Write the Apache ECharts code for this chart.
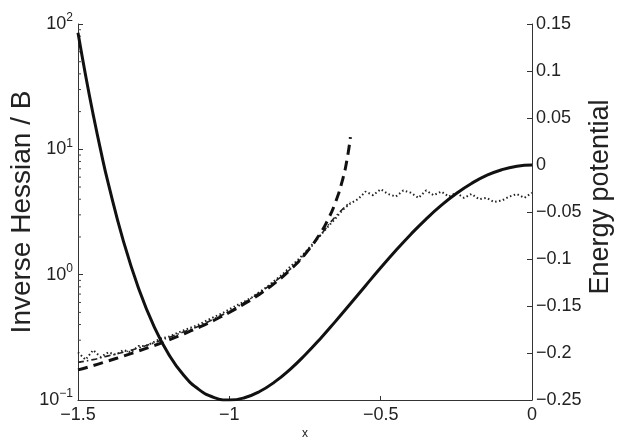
<!DOCTYPE html>
<html><head><meta charset="utf-8">
<script src="https://cdn.jsdelivr.net/npm/echarts@6/dist/echarts.min.js"></script>
<style>html,body{margin:0;padding:0;background:#fff}#c{width:621px;height:438px}</style>
</head><body><div id="c"></div>
<script>
// Energy potential (right axis)
const energyX = [-1.5,-1.475,-1.45,-1.425,-1.4,-1.35,-1.3,-1.25,-1.2,-1.15,-1.1,-1.05,-1.0,-0.95,-0.9,-0.85,-0.8,-0.75,-0.7,-0.65,-0.6,-0.55,-0.5,-0.45,-0.4,-0.35,-0.3,-0.25,-0.2,-0.15,-0.1,-0.05,0];
const energyY = [0.1406,0.0955,0.0539,0.0155,-0.0196,-0.0809,-0.131,-0.1709,-0.2016,-0.224,-0.239,-0.2474,-0.25,-0.2476,-0.241,-0.2307,-0.2176,-0.2021,-0.185,-0.1666,-0.1476,-0.1284,-0.1094,-0.091,-0.0736,-0.0575,-0.043,-0.0303,-0.0196,-0.0111,-0.005,-0.0013,0];
// Inverse Hessian, dashed (left log axis)
const dashedX = [-1.5,-1.45,-1.4,-1.35,-1.3,-1.25,-1.2,-1.15,-1.1,-1.05,-1.0,-0.95,-0.9,-0.85,-0.8,-0.75,-0.7,-0.675,-0.65,-0.625,-0.61,-0.6];
const dashedY = [0.174,0.188,0.205,0.224,0.246,0.271,0.301,0.337,0.380,0.433,0.5,0.586,0.699,0.857,1.087,1.455,2.128,2.726,3.738,5.82,8.6,12.5];
// dash-dot estimate
const dashDotX = [-1.5,-1.45,-1.4,-1.35,-1.3,-1.25,-1.2,-1.15,-1.1,-1.05,-1.0,-0.95,-0.9,-0.85,-0.8,-0.75,-0.7,-0.65,-0.6];
const dashDotY = [0.20,0.21,0.225,0.24,0.26,0.285,0.315,0.35,0.39,0.445,0.51,0.6,0.72,0.88,1.1,1.45,2.05,2.9,3.8];
// dotted estimate
const dottedX = [-1.5,-1.475,-1.45,-1.425,-1.4,-1.375,-1.35,-1.325,-1.3,-1.275,-1.25,-1.225,-1.2,-1.175,-1.15,-1.125,-1.1,-1.075,-1.05,-1.025,-1.0,-0.975,-0.95,-0.925,-0.9,-0.875,-0.85,-0.825,-0.8,-0.775,-0.75,-0.725,-0.7,-0.675,-0.65,-0.625,-0.6,-0.575,-0.55,-0.525,-0.5,-0.475,-0.45,-0.425,-0.4,-0.375,-0.35,-0.325,-0.3,-0.275,-0.25,-0.225,-0.2,-0.175,-0.15,-0.125,-0.1,-0.075,-0.05,-0.025,0];
const dottedY = [0.24,0.21,0.25,0.22,0.24,0.23,0.25,0.24,0.27,0.27,0.29,0.31,0.32,0.34,0.36,0.38,0.40,0.43,0.46,0.49,0.53,0.57,0.61,0.66,0.73,0.80,0.90,1.0,1.15,1.3,1.5,1.75,2.05,2.4,2.8,3.3,3.7,4.0,4.6,4.3,4.8,4.4,4.2,4.7,4.5,4.1,4.7,4.3,4.6,4.2,4.5,4.1,4.4,4.0,4.1,3.8,3.9,4.2,4.4,4.1,4.5];
// minor tick values on the log axis
const logMinorTicks = [0.2,0.3,0.4,0.5,0.6,0.7,0.8,0.9,2,3,4,5,6,7,8,9,20,30,40,50,60,70,80,90];

const zip = (a,b)=>a.map((v,i)=>[v,b[i]]);
const minus = s => String(s).replace('-', '\u2212');
const FONT = 'Liberation Sans';
const chart = echarts.init(document.getElementById('c'), null, {renderer:'canvas'});
const axisLine = {show:true, onZero:false, lineStyle:{color:'#333', width:1}};
chart.setOption({
  animation:false,
  backgroundColor:'#fff',
  grid:{left:78, right:89, top:24, bottom:38, containLabel:false, outerBoundsMode:'none'},
  xAxis:{type:'value', min:-1.5, max:0, interval:0.5,
    axisLine:axisLine, splitLine:{show:false},
    axisTick:{inside:true, length:4, lineStyle:{color:'#333'}},
    axisLabel:{fontFamily:FONT, fontSize:18, color:'#222', margin:6, formatter:v=>minus(+v.toFixed(2))},
    name:'x', nameLocation:'middle', nameGap:28, nameMoveOverlap:false, nameTextStyle:{fontFamily:FONT, fontSize:12, color:'#222'}},
  yAxis:[
    {type:'log', logBase:10, min:0.1, max:100, position:'left',
      axisLine:axisLine, splitLine:{show:false},
      axisTick:{inside:true, length:5, lineStyle:{color:'#333'}},
      axisLabel:{fontFamily:FONT, color:'#222', margin:5,
        formatter:v=>{const e=Math.round(Math.log10(v)); return '{b|10}{e|'+minus(e)+'}';},
        rich:{b:{fontFamily:FONT, fontSize:18, color:'#222'}, e:{fontFamily:FONT, fontSize:12, color:'#222', padding:[0,0,12,0]}}},
      name:'Inverse Hessian / B', nameLocation:'middle', nameRotate:90, nameGap:42, nameMoveOverlap:false,
      nameTextStyle:{fontFamily:FONT, fontSize:28, color:'#222'}},
    {type:'value', min:-0.25, max:0.15, interval:0.05, position:'right',
      axisLine:axisLine, splitLine:{show:false},
      axisTick:{inside:true, length:5, lineStyle:{color:'#333'}},
      axisLabel:{fontFamily:FONT, fontSize:18, color:'#222', margin:4, formatter:v=>minus(+v.toFixed(2))},
      name:'Energy potential', nameLocation:'middle', nameRotate:90, nameGap:55, nameMoveOverlap:false,
      nameTextStyle:{fontFamily:FONT, fontSize:27, color:'#222', padding:[0,0,0,30]}}
  ],
  series:[
    {type:'custom', yAxisIndex:0, data:logMinorTicks.map(v=>[-1.5, v]), silent:true, clip:false,
      renderItem:(params, api)=>{
        const p = api.coord([api.value(0), api.value(1)]);
        return {type:'line', shape:{x1:p[0], y1:p[1], x2:p[0]+3, y2:p[1]}, style:{stroke:'#444', lineWidth:1}};
      }},
    {type:'line', yAxisIndex:0, data:zip(dottedX,dottedY), showSymbol:false, smooth:false,
      lineStyle:{color:'#222', width:2, type:[1.5,2.5]}},
    {type:'line', yAxisIndex:0, data:zip(dashDotX,dashDotY), showSymbol:false, smooth:true,
      lineStyle:{color:'#222', width:1.6, type:[6,3,1.5,3]}},
    {type:'line', yAxisIndex:0, data:zip(dashedX,dashedY), showSymbol:false, smooth:true,
      lineStyle:{color:'#111', width:3, type:[10,6]}},
    {type:'line', yAxisIndex:1, data:zip(energyX,energyY), showSymbol:false, smooth:true,
      lineStyle:{color:'#111', width:3, type:'solid'}}
  ]
});
</script></body></html>
